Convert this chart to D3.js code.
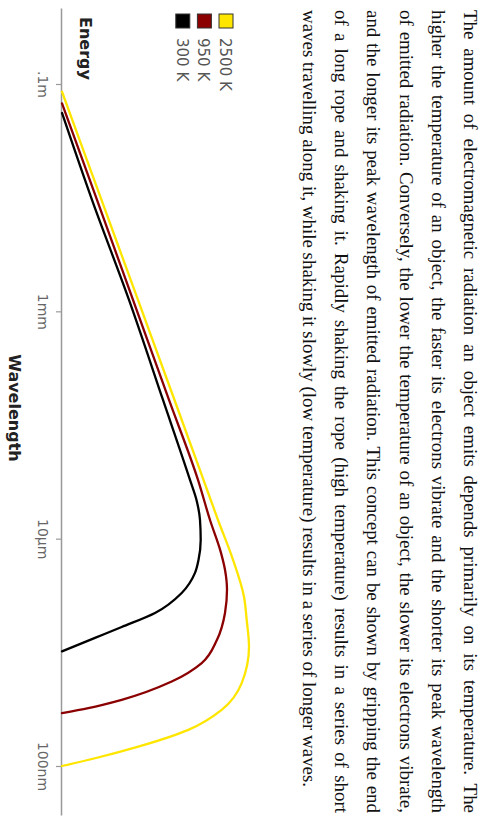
<!DOCTYPE html>
<html>
<head>
<meta charset="utf-8">
<script src="https://cdn.jsdelivr.net/npm/d3@7"></script>
<style>
  html, body { margin: 0; padding: 0; background: #fff; }
  svg { display: block; }
</style>
</head>
<body>
<svg id="chart" width="483" height="820"></svg>
<script>
// ---------- data ----------
const paragraphLines = [
  "The amount of electromagnetic radiation an object emits depends primarily on its temperature. The",
  "higher the temperature of an object, the faster its electrons vibrate and the shorter its peak wavelength",
  "of emitted radiation. Conversely, the lower the temperature of an object, the slower its electrons vibrate,",
  "and the longer its peak wavelength of emitted radiation. This concept can be shown by gripping the end",
  "of a long rope and shaking it. Rapidly shaking the rope (high temperature) results in a series of short",
  "waves travelling along it, while shaking it slowly (low temperature) results in a series of longer waves."
];
const seriesNames = ["2500 K", "950 K", "300 K"];
const tickValues = [1e-1, 1e-3, 1e-5, 1e-7];
const tickLabels = [".1m", "1mm", "10\u03bcm", "100nm"];
const xTitle = "Wavelength";
const yTitle = "Energy";

// wavelength (m) and relative energy
const wl2500 = [8.55e-2, 9.55e-3, 1.26e-3, 1.66e-4, 3.29e-5, 1.46e-5, 6.92e-6, 3.08e-6, 1.93e-6, 1.12e-6, 5.36e-7, 3.12e-7, 2.08e-7, 1.48e-7, 1.17e-7, 1.00e-7];
const en2500 = [0, 39.5, 76, 112.5, 141.5, 156, 170, 182, 184.7, 187, 179.7, 159.7, 126.3, 76.3, 33, 0];
const wl950 = [6.76e-2, 9.55e-3, 1.26e-3, 1.66e-4, 3.29e-5, 1.46e-5, 7.5e-6, 5.32e-6, 3.55e-6, 2.22e-6, 1.29e-6, 8.04e-7, 5.53e-7, 3.82e-7, 3.23e-7, 2.92e-7];
const en950 = [0, 35, 71, 107, 136, 148, 159, 163, 165, 163, 155, 139.7, 109.7, 59.7, 26.3, 0];
const wl300 = [5.56e-2, 9.55e-3, 1.26e-3, 1.66e-4, 3.29e-5, 2.19e-5, 1.46e-5, 9.75e-6, 6.5e-6, 5.0e-6, 3.33e-6, 2.22e-6, 1.67e-6, 1.34e-6, 1.02e-6];
const en300 = [0, 30, 67, 101, 128, 134.5, 138, 138.7, 136.5, 133, 119.7, 93, 59.7, 33, 0];

// ---------- styles ----------
const seriesColors = ["#ffe600", "#8b0000", "#000000"];

const series = [
  { name: seriesNames[0], wl: wl2500, en: en2500 },
  { name: seriesNames[1], wl: wl950, en: en950 },
  { name: seriesNames[2], wl: wl300, en: en300 }
];

// ---------- layout (unrotated page is 820 x 483, then turned 90deg clockwise) ----------
const W = 820, H = 483;
const svg = d3.select("#chart");
const root = svg.append("g").attr("transform", `translate(${H},0) rotate(90)`);

// paragraph
const paraLeft = 10, paraWidth = 803, paraTop = 19, paraStep = 32.2;
const para = root.append("g")
  .attr("font-family", "'Liberation Serif', 'Times New Roman', serif")
  .attr("fill", "#111");
// fit font size so the last (unjustified) line spans the measured width
let fs = 17;
const probe = para.append("text").attr("font-size", fs).text(paragraphLines[paragraphLines.length - 1]);
const lastW = probe.node().getComputedTextLength();
probe.remove();
fs = fs * 778 / lastW;
paragraphLines.forEach((line, i) => {
  const t = para.append("text")
    .attr("x", paraLeft)
    .attr("y", paraTop + i * paraStep)
    .attr("font-size", fs)
    .text(line);
  if (i < paragraphLines.length - 1) {
    const w = t.node().getComputedTextLength();
    const spaces = (line.match(/ /g) || []).length;
    t.style("word-spacing", ((paraWidth - w) / spaces) + "px");
  }
});

// scales
const axisY = 421;
const x0 = d3.scaleLog().domain([1e-1, 1e-7]).range([84, 766]);
const x = d3.scaleLog().domain([x0.invert(8), x0.invert(815)]).range([8, 815]);
const y = d3.scaleLinear().domain([0, 200]).range([axisY, axisY - 200]);

// x axis
const xAxis = d3.axisBottom(x)
  .tickValues(tickValues)
  .tickFormat((d, i) => tickLabels[i])
  .tickSizeInner(6)
  .tickSizeOuter(0)
  .tickPadding(8);
const ax = root.append("g").attr("transform", `translate(0,${axisY})`).call(xAxis);
ax.select(".domain").attr("stroke", "#999").attr("stroke-width", 1.5);
ax.selectAll(".tick line").attr("stroke", "#999").attr("stroke-width", 1.2);
ax.selectAll(".tick text")
  .attr("font-family", "'DejaVu Sans', sans-serif")
  .attr("font-size", 14)
  .attr("fill", "#666");

// axis titles
root.append("text")
  .attr("x", 408).attr("y", 474)
  .attr("text-anchor", "middle")
  .attr("font-family", "'DejaVu Sans', sans-serif")
  .attr("font-weight", "bold")
  .attr("font-size", 16)
  .attr("fill", "#222")
  .text(xTitle);
root.append("text")
  .attr("x", 17).attr("y", 403)
  .attr("font-family", "'DejaVu Sans', sans-serif")
  .attr("font-weight", "bold")
  .attr("font-size", 16)
  .attr("fill", "#222")
  .text(yTitle);

// curves
const line = d3.line()
  .x(d => x(d[0]))
  .y(d => y(d[1]))
  .curve(d3.curveMonotoneX);
root.append("g").selectAll("path")
  .data(series)
  .join("path")
  .attr("d", s => line(s.wl.map((w, i) => [w, s.en[i]])))
  .attr("fill", "none")
  .attr("stroke", (s, i) => seriesColors[i])
  .attr("stroke-width", 2.3)
  .attr("stroke-linejoin", "round")
  .attr("stroke-linecap", "round");

// legend
const legend = root.append("g").attr("transform", "translate(14,250)");
const items = legend.selectAll("g").data(series).join("g")
  .attr("transform", (s, i) => `translate(0,${i * 21.6})`);
items.append("rect")
  .attr("width", 14).attr("height", 14)
  .attr("fill", (s, i) => seriesColors[i])
  .attr("stroke", "#333").attr("stroke-width", 1);
items.append("text")
  .attr("x", 24).attr("y", 13)
  .attr("font-family", "'DejaVu Sans', sans-serif")
  .attr("font-size", 15)
  .attr("fill", "#555")
  .text(s => s.name);
</script>
</body>
</html>
